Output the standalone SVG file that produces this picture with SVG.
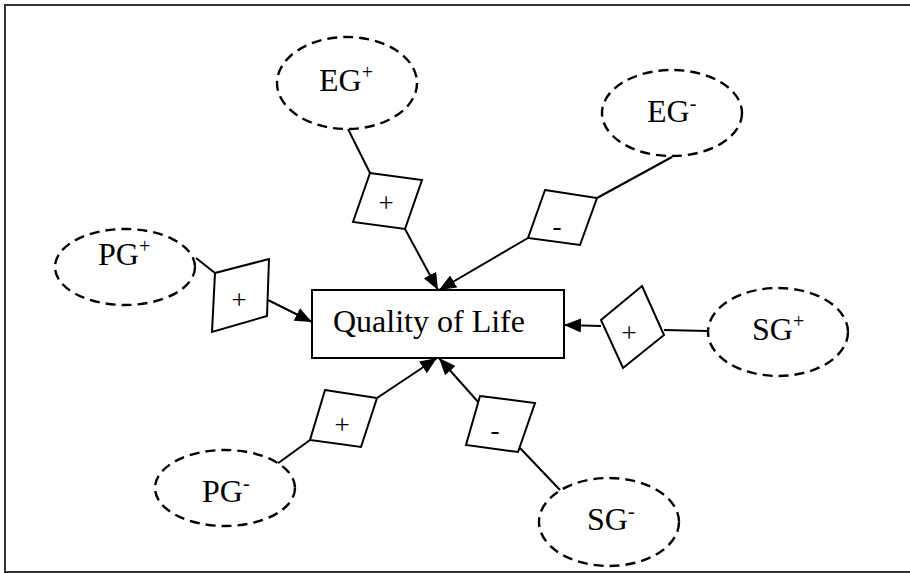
<svg xmlns="http://www.w3.org/2000/svg" width="910" height="573" viewBox="0 0 910 573">
<style>
.frame{fill:none;stroke:#333;stroke-width:2}
.ell{fill:#fff;stroke:#000;stroke-width:2.4;stroke-dasharray:10 6}
.box{fill:#fff;stroke:#000;stroke-width:2}
.dia{fill:#fff;stroke:#000;stroke-width:2}
.lbl{font-family:"Liberation Serif","Times New Roman",serif;font-size:32px;fill:#000}
.sign{font-family:"Liberation Serif","Times New Roman",serif;font-size:27px;fill:#000;text-anchor:middle}
.sup{font-size:20px}
.conn line{stroke:#000;stroke-width:2}
</style>
<defs>
<marker id="ah" markerUnits="userSpaceOnUse" markerWidth="18" markerHeight="14" refX="17" refY="7" orient="auto">
<path d="M0,0 L17,7 L0,14 Z" fill="#000"/>
</marker>
</defs>
<rect class="frame" x="5" y="5" width="920" height="567"/>
<g id="connectors" class="conn">
<line x1="348" y1="129" x2="370" y2="173"/>
<line x1="405" y1="229" x2="438" y2="290" marker-end="url(#ah)"/>
<line x1="672" y1="157" x2="597" y2="198"/>
<line x1="528" y1="238" x2="439" y2="290" marker-end="url(#ah)"/>
<line x1="196" y1="258" x2="215" y2="273"/>
<line x1="268" y1="300" x2="312" y2="322" marker-end="url(#ah)"/>
<line x1="708" y1="331" x2="664" y2="330"/>
<line x1="601" y1="326" x2="564" y2="325" marker-end="url(#ah)"/>
<line x1="277" y1="464" x2="310" y2="440"/>
<line x1="377" y1="398" x2="437" y2="358" marker-end="url(#ah)"/>
<line x1="520" y1="448" x2="560" y2="490"/>
<line x1="479" y1="403" x2="439" y2="358" marker-end="url(#ah)"/>
</g>
<g id="qol">
<rect class="box" x="312" y="290" width="252" height="68"/>
<text class="lbl" x="333" y="332">Quality of Life</text>
</g>
<g id="eg-plus">
<ellipse class="ell" cx="347" cy="83" rx="70" ry="46"/>
<text class="lbl" x="319" y="91">EG<tspan class="sup" dy="-12">+</tspan></text>
</g>
<g id="eg-plus-sign">
<polygon class="dia" points="370,173 422,180 405,229 353,222"/>
<text class="sign" x="386" y="212">+</text>
</g>
<g id="eg-minus">
<ellipse class="ell" cx="672" cy="113" rx="70" ry="43"/>
<text class="lbl" x="647" y="122">EG<tspan class="sup" dy="-12">-</tspan></text>
</g>
<g id="eg-minus-sign">
<polygon class="dia" points="545,190 597,198 580,245 528,238"/>
<text class="sign" x="557" y="235">-</text>
</g>
<g id="pg-plus">
<ellipse class="ell" cx="125" cy="267" rx="70" ry="38"/>
<text class="lbl" x="98" y="265">PG<tspan class="sup" dy="-12">+</tspan></text>
</g>
<g id="pg-plus-sign">
<polygon class="dia" points="215,273 269,259 267,316 212,332"/>
<text class="sign" x="239" y="309">+</text>
</g>
<g id="sg-plus">
<ellipse class="ell" cx="778" cy="332" rx="70" ry="44"/>
<text class="lbl" x="752" y="340">SG<tspan class="sup" dy="-12">+</tspan></text>
</g>
<g id="sg-plus-sign">
<polygon class="dia" points="642,286 664,335 623,368 601,320"/>
<text class="sign" x="629" y="342">+</text>
</g>
<g id="pg-minus">
<ellipse class="ell" cx="225" cy="488" rx="70" ry="38"/>
<text class="lbl" x="202" y="502">PG<tspan class="sup" dy="-12">-</tspan></text>
</g>
<g id="pg-minus-sign">
<polygon class="dia" points="325,390 377,398 361,447 310,440"/>
<text class="sign" x="342" y="434">+</text>
</g>
<g id="sg-minus">
<ellipse class="ell" cx="609" cy="522" rx="70" ry="44"/>
<text class="lbl" x="587" y="530">SG<tspan class="sup" dy="-12">-</tspan></text>
</g>
<g id="sg-minus-sign">
<polygon class="dia" points="480,396 535,403 518,452 466,445"/>
<text class="sign" x="495" y="439">-</text>
</g>
</svg>
